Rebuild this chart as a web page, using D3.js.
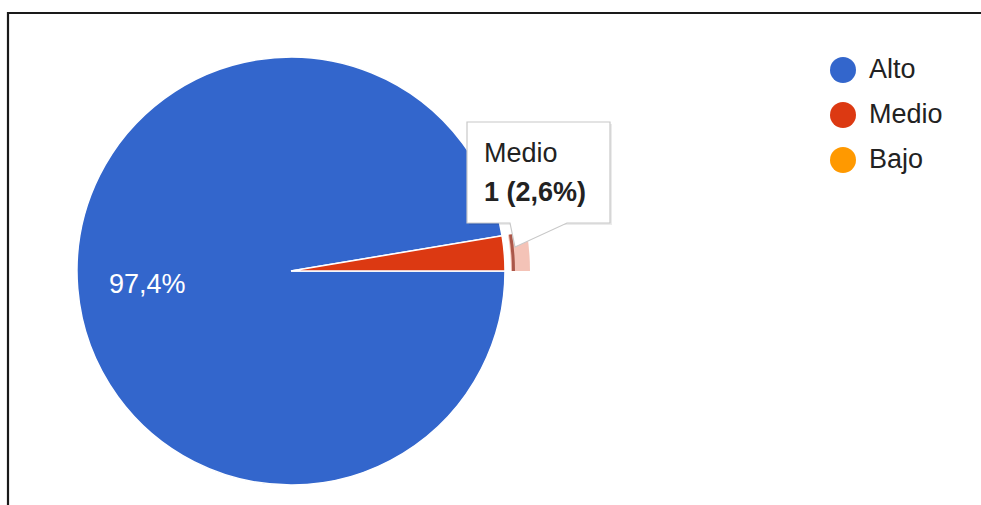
<!DOCTYPE html>
<html>
<head>
<meta charset="utf-8">
<script src="https://cdn.jsdelivr.net/npm/d3@7"></script>
<style>
  html, body { margin: 0; padding: 0; background: #fff; }
  svg { display: block; font-family: "Liberation Sans", Arial, sans-serif; }
</style>
</head>
<body>
<svg id="chart" width="981" height="505"></svg>
<script>
// Survey answers per level
const categories = ["Alto", "Medio", "Bajo"];
const counts = [37, 1, 0];
const sliceColors = ["#3366cc", "#dc3912", "#ff9900"];
const highlighted = "Medio";

const W = 981, H = 505;
const cx = 291, cy = 271, radius = 214;
const fontSize = 27;

const svg = d3.select("#chart");

// outer frame (only top and left edges are visible)
svg.append("path")
  .attr("d", `M8,${H} L8,13 L${W},13`)
  .attr("fill", "none")
  .attr("stroke", "#1a1a1a")
  .attr("stroke-width", 2.2);

const total = d3.sum(counts);
const fmt = v => d3.format(".1f")(v).replace(".", ",");

const color = d3.scaleOrdinal().domain(categories).range(sliceColors);

const pie = d3.pie()
  .value(d => d.value)
  .sort(null)
  .startAngle(Math.PI / 2)
  .endAngle(Math.PI / 2 + 2 * Math.PI);

const data = categories.map((c, i) => ({ name: c, value: counts[i] }));
const arcs = pie(data).filter(a => a.data.value > 0);

const arc = d3.arc().innerRadius(0).outerRadius(radius);
const g = svg.append("g").attr("transform", `translate(${cx},${cy})`);

g.selectAll("path.slice")
  .data(arcs)
  .join("path")
  .attr("class", "slice")
  .attr("d", arc)
  .attr("fill", d => color(d.data.name))
  .attr("stroke", "#fff")
  .attr("stroke-width", 1.5);

// hover ring around the highlighted slice
const hi = arcs.find(a => a.data.name === highlighted);
const ring = d3.arc().innerRadius(radius + 6).outerRadius(radius + 25);
g.append("path")
  .attr("d", ring(hi))
  .attr("fill", color(hi.data.name))
  .attr("fill-opacity", 0.3);
g.append("path")
  .attr("d", d3.arc().innerRadius(radius + 7).outerRadius(radius + 10)(hi))
  .attr("fill", "#8b2a1a")
  .attr("fill-opacity", 0.7);

// percentage labels inside slices
const labelArc = d3.arc().innerRadius(radius * 0.674).outerRadius(radius * 0.674);
g.selectAll("text.pct")
  .data(arcs.filter(a => a.data.value / total > 0.05))
  .join("text")
  .attr("class", "pct")
  .attr("transform", d => `translate(${labelArc.centroid(d)})`)
  .attr("text-anchor", "middle")
  .attr("dy", "0.36em")
  .attr("fill", "#fff")
  .attr("font-size", fontSize)
  .text(d => fmt(d.data.value / total * 100) + "%");

// legend
const legend = svg.append("g");
categories.forEach((c, i) => {
  const y = 78 + i * 45;
  legend.append("circle")
    .attr("cx", 843).attr("cy", y - 8).attr("r", 13)
    .attr("fill", color(c));
  legend.append("text")
    .attr("x", 869).attr("y", y)
    .attr("font-size", fontSize)
    .attr("fill", "#222")
    .text(c);
});

// tooltip for the highlighted slice
const tip = svg.append("g");
const bx = 467, by = 122, bw = 143, bh = 101;
const tailPath = `M${bx + 43},${by + bh} L${bx + 48},${by + bh + 24} L${bx + 100},${by + bh}`;
tip.append("rect")
  .attr("x", bx + 2).attr("y", by + 2).attr("width", bw).attr("height", bh)
  .attr("fill", "#000").attr("fill-opacity", 0.08);
tip.append("path")
  .attr("d", `M${bx},${by} h${bw} v${bh} H${bx + 100} L${bx + 48},${by + bh + 24} L${bx + 43},${by + bh} H${bx} Z`)
  .attr("fill", "#fff")
  .attr("stroke", "#c8c8c8")
  .attr("stroke-width", 1.2);
tip.append("text")
  .attr("x", bx + 17).attr("y", by + 40)
  .attr("font-size", fontSize).attr("fill", "#222")
  .text(hi.data.name);
tip.append("text")
  .attr("x", bx + 17).attr("y", by + 79)
  .attr("font-size", fontSize).attr("font-weight", "bold").attr("fill", "#222")
  .text(`${hi.data.value} (${fmt(hi.data.value / total * 100)}%)`);
</script>
</body>
</html>
